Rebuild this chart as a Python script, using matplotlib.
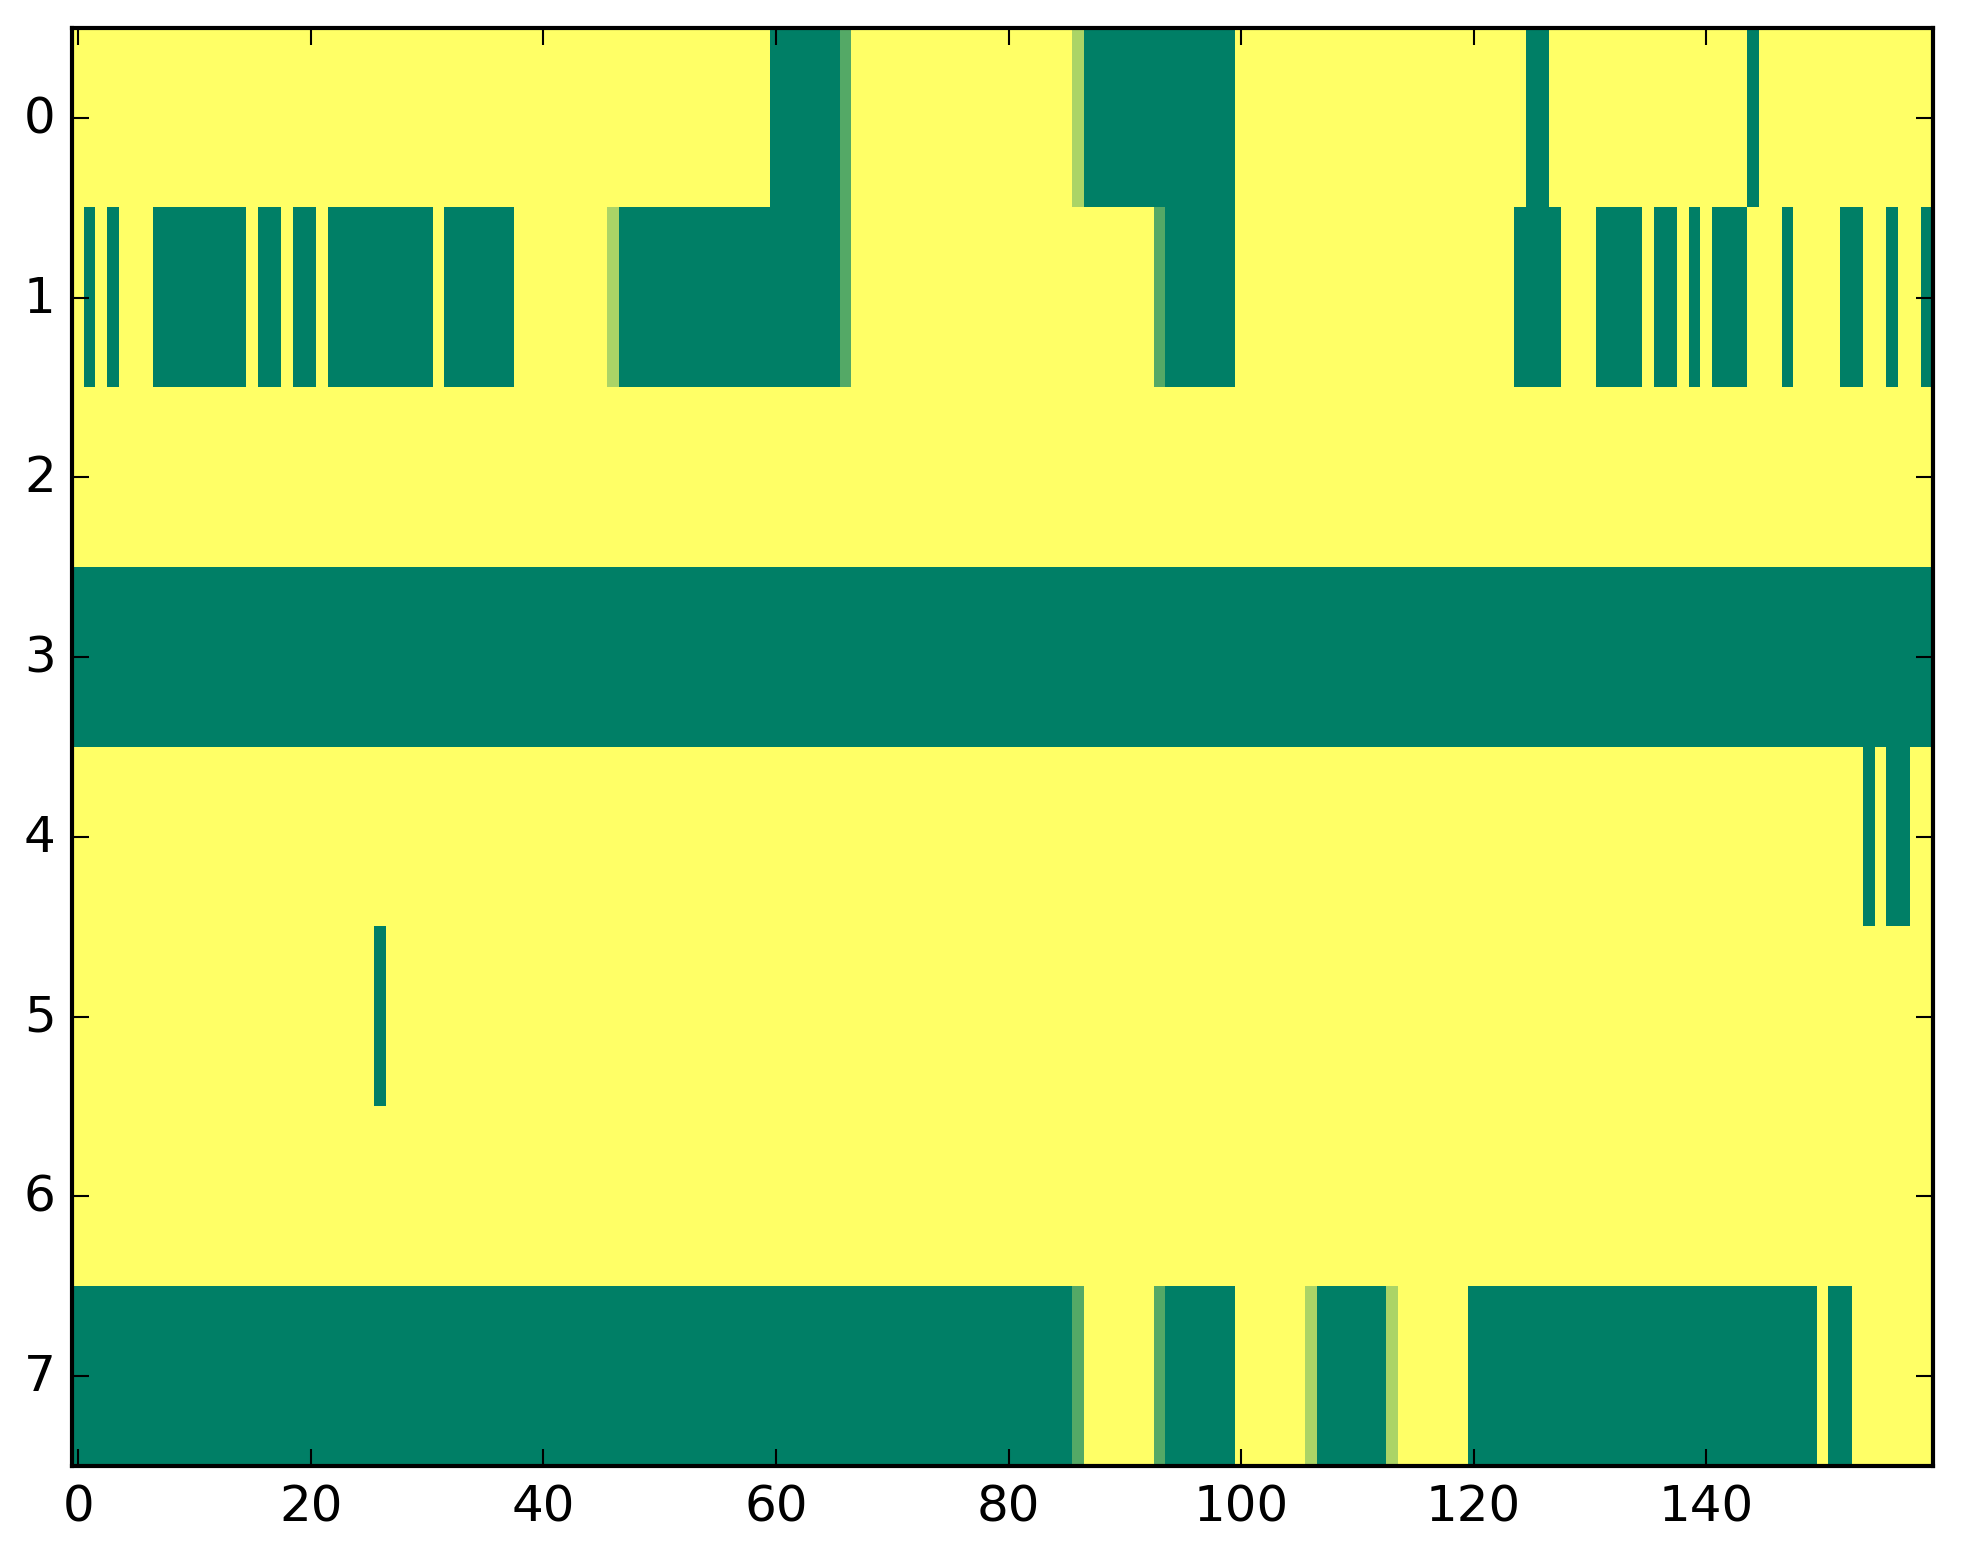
import numpy as np
import matplotlib
matplotlib.use("Agg")
import matplotlib.pyplot as plt

plt.style.use("classic")

n_rows = 8
n_cols = 160

# Background value of each row (1 = yellow, 0 = green)
row_background = [1, 1, 1, 0, 1, 1, 1, 1]

# Runs of green cells (value 0), inclusive column ranges, per row
green_runs = {
    0: [(60, 65), (87, 99), (125, 126), (144, 144)],
    1: [(1, 1), (3, 3), (7, 14), (16, 17), (19, 20), (22, 30), (32, 37),
        (47, 65), (94, 99), (124, 127), (131, 134), (136, 137), (139, 139),
        (141, 143), (147, 147), (152, 153), (156, 156), (159, 159)],
    4: [(154, 154), (156, 157)],
    5: [(26, 26)],
    7: [(0, 85), (94, 99), (107, 112), (120, 149), (151, 152)],
}

# Single cells with intermediate values: (row, column, value)
partial_cells = [
    (0, 66, 0.33), (0, 86, 0.67),
    (1, 46, 0.67), (1, 66, 0.33), (1, 93, 0.33),
    (7, 86, 0.33), (7, 93, 0.33), (7, 106, 0.67), (7, 113, 0.67),
]

data = np.ones((n_rows, n_cols))
for r, bg in enumerate(row_background):
    data[r, :] = bg
for r, runs in green_runs.items():
    for a, b in runs:
        data[r, a:b + 1] = 0.0
for r, c, v in partial_cells:
    data[r, c] = v

fig = plt.figure(figsize=(1963 / 300, 1564 / 300), dpi=300)
ax = fig.add_axes([0.0369, 0.0622, 0.9847 - 0.0369, 0.9813 - 0.0622])
ax.imshow(data, cmap="summer", vmin=0, vmax=1, aspect="auto",
          interpolation="nearest")
ax.set_xlim(-0.5, n_cols - 0.5)
ax.set_ylim(n_rows - 0.5, -0.5)
ax.set_xticks(np.arange(0, 141, 20))
ax.set_yticks(np.arange(0, 8))

fig.savefig("out.png", dpi=300)
